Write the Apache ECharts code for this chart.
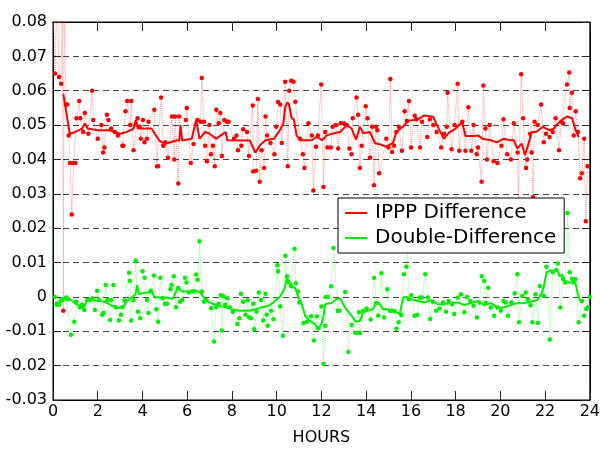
<!DOCTYPE html>
<html>
<head>
<meta charset="utf-8">
<script src="https://cdn.jsdelivr.net/npm/echarts@6/dist/echarts.min.js"></script>
<style>
  html, body { margin: 0; padding: 0; background: #fff; }
  #chart { width: 603px; height: 451px; }
</style>
</head>
<body>
<div id="chart"></div>
<script>
// tick labels
var hourTicks = [0, 2, 4, 6, 8, 10, 12, 14, 16, 18, 20, 22, 24];
var valueTicks = [-0.03, -0.02, -0.01, 0, 0.01, 0.02, 0.03, 0.04, 0.05, 0.06, 0.07, 0.08];

// IPPP difference, raw points [hour, value]
var ipppRaw = [
  [0.00,0.082],[0.09,0.065],[0.18,0.092],[0.27,0.064],[0.36,0.062],[0.42,0.090],[0.46,-0.004],[0.50,0.088],
  [0.58,0.056],[0.64,0.056],[0.70,0.047],[0.76,0.039],[0.84,0.024],[0.92,0.039],[1.00,0.039],[1.05,0.052],
  [1.17,0.057],[1.22,0.052],[1.35,0.048],[1.42,0.0535],[1.58,0.0475],[1.75,0.060],[1.80,0.0515],[2.00,0.046],
  [2.16,0.050],[2.24,0.042],[2.30,0.0435],[2.41,0.053],[2.48,0.0515],[2.60,0.049],[2.76,0.048],[2.90,0.047],
  [3.10,0.044],[3.15,0.044],[3.24,0.054],[3.32,0.057],[3.45,0.050],[3.50,0.057],[3.60,0.0427],[3.78,0.052],
  [3.87,0.0495],[3.93,0.046],[4.02,0.0515],[4.09,0.045],[4.20,0.046],[4.27,0.051],[4.53,0.0545],[4.65,0.038],
  [4.70,0.038],[4.83,0.058],[4.93,0.044],[5.02,0.045],[5.14,0.0405],[5.32,0.0525],[5.42,0.040],[5.46,0.0525],
  [5.60,0.033],[5.64,0.0525],[5.94,0.0515],[5.98,0.055],[6.16,0.039],[6.28,0.0445],[6.46,0.0515],[6.60,0.051],
  [6.65,0.0637],[6.75,0.051],[6.80,0.044],[6.88,0.0395],[6.99,0.050],[7.06,0.0415],[7.15,0.044],[7.23,0.038],
  [7.30,0.0545],[7.41,0.0505],[7.48,0.0535],[7.55,0.041],[7.66,0.0515],[7.78,0.051],[7.85,0.051],[8.09,0.046],
  [8.20,0.047],[8.27,0.0427],[8.42,0.044],[8.50,0.0488],[8.67,0.048],[8.76,0.041],[8.93,0.0557],[8.95,0.0365],
  [9.08,0.0367],[9.16,0.0576],[9.24,0.0335],[9.33,0.0427],[9.44,0.0375],[9.50,0.0525],[9.57,0.047],[9.72,0.0448],
  [9.90,0.0415],[9.98,0.0495],[10.06,0.0567],[10.16,0.056],[10.23,0.0448],[10.38,0.0626],[10.50,0.038],[10.56,0.060],
  [10.65,0.0629],[10.75,0.0626],[10.83,0.0568],[11.05,0.046],[11.17,0.0415],[11.24,0.0375],[11.42,0.0505],[11.57,0.047],
  [11.64,0.031],[11.76,0.0437],[11.84,0.047],[11.99,0.0618],[12.09,0.032],[12.17,0.048],[12.27,0.0435],[12.42,0.0435],
  [12.50,0.0495],[12.65,0.050],[12.75,0.0432],[12.86,0.0505],[13.01,0.0505],[13.13,0.050],[13.25,0.0432],[13.35,0.0415],
  [13.40,0.052],[13.57,0.058],[13.64,0.053],[13.72,0.0375],[13.80,0.044],[13.98,0.0555],[14.06,0.052],[14.17,0.0405],
  [14.27,0.0495],[14.35,0.0325],[14.44,0.0495],[14.50,0.0485],[14.58,0.036],[14.90,0.046],[15.00,0.0435],[15.08,0.0634],
  [15.16,0.0422],[15.25,0.044],[15.35,0.048],[15.46,0.0495],[15.60,0.0425],[15.72,0.054],[15.82,0.0512],[15.91,0.057],
  [16.01,0.0435],[16.17,0.0527],[16.24,0.0517],[16.41,0.0435],[16.50,0.051],[16.73,0.0465],[16.85,0.0517],[17.00,0.050],
  [17.15,0.048],[17.35,0.0435],[17.48,0.0475],[17.60,0.0495],[17.64,0.0594],[17.82,0.043],[17.95,0.050],[18.09,0.062],
  [18.16,0.0425],[18.30,0.051],[18.44,0.0425],[18.57,0.0552],[18.70,0.0425],[18.80,0.050],[18.94,0.0415],[19.00,0.0435],
  [19.16,0.0335],[19.24,0.0615],[19.33,0.049],[19.40,0.040],[19.52,0.050],[19.70,0.0395],[19.87,0.039],[20.05,0.044],
  [20.14,0.0517],[20.30,0.0415],[20.47,0.040],[20.60,0.0505],[20.77,0.042],[20.80,0.027],[20.93,0.0648],[21.02,0.052],
  [21.15,0.0375],[21.20,0.040],[21.33,0.0475],[21.40,0.042],[21.46,0.029],[21.53,0.051],[21.67,0.050],[21.82,0.056],
  [21.94,0.045],[22.04,0.0475],[22.20,0.0465],[22.34,0.048],[22.47,0.052],[22.62,0.0427],[22.73,0.051],[22.80,0.0505],
  [22.98,0.0618],[23.08,0.0653],[23.10,0.055],[23.20,0.0594],[23.28,0.047],[23.37,0.054],[23.47,0.048],[23.57,0.0345],
  [23.64,0.036],[23.75,0.046],[23.82,0.022],[23.90,0.038]
];

// IPPP difference, smoothed curve
var ipppSmooth = [
  [0.46,0.059],[0.75,0.0475],[1.00,0.048],[1.30,0.049],[1.42,0.0505],[1.55,0.049],[2.00,0.0485],[2.50,0.0485],
  [3.00,0.0475],[3.30,0.048],[3.60,0.049],[3.70,0.0515],[3.80,0.049],[4.00,0.049],[4.40,0.049],[4.75,0.0455],
  [5.00,0.0445],[5.50,0.0455],[5.65,0.0455],[5.70,0.050],[5.78,0.0455],[6.20,0.046],[6.40,0.0515],[6.55,0.046],
  [6.80,0.048],[7.00,0.0475],[7.30,0.046],[7.50,0.047],[7.72,0.048],[7.79,0.0456],[8.80,0.0455],[9.05,0.042],
  [9.27,0.0443],[9.50,0.0456],[9.87,0.046],[10.10,0.048],[10.30,0.0505],[10.38,0.0552],[10.48,0.0566],[10.55,0.056],
  [10.67,0.052],[10.77,0.0516],[10.89,0.047],[11.05,0.0456],[11.35,0.0456],[11.57,0.0456],[11.80,0.0466],[12.02,0.0456],
  [12.24,0.047],[12.54,0.0476],[12.84,0.048],[13.13,0.050],[13.35,0.049],[13.55,0.0458],[13.72,0.0495],[13.87,0.0476],
  [14.17,0.048],[14.40,0.0447],[14.62,0.0444],[14.90,0.0437],[15.20,0.0448],[15.35,0.048],[15.64,0.0495],[15.90,0.0513],
  [16.30,0.0516],[16.60,0.0528],[17.00,0.0524],[17.15,0.0502],[17.47,0.046],[17.70,0.0478],[18.00,0.049],[18.10,0.0497],
  [18.30,0.0507],[18.44,0.0468],[18.80,0.0468],[19.00,0.047],[19.20,0.046],[19.56,0.0456],[19.85,0.045],[20.14,0.046],
  [20.44,0.0456],[20.60,0.0456],[20.75,0.0432],[20.96,0.0446],[21.10,0.0412],[21.26,0.0446],[21.40,0.048],[21.60,0.048],
  [21.90,0.0495],[22.20,0.0485],[22.40,0.049],[22.50,0.050],[22.75,0.0515],[22.98,0.0525],[23.20,0.052],[23.37,0.0485],
  [23.50,0.0465]
];

// double-difference, raw points
var ddRaw = [
  [0.09,0.000],[0.16,-0.0023],[0.27,-0.0023],[0.37,-0.001],[0.44,-0.0007],[0.59,-0.0002],[0.67,-0.0007],[0.80,-0.011],
  [0.95,-0.0072],[1.05,-0.0014],[1.20,-0.003],[1.30,-0.0023],[1.40,-0.0038],[1.53,-0.0009],[1.64,-0.0009],[1.76,-0.0004],
  [1.87,-0.0038],[1.97,0.0018],[2.06,-0.0009],[2.20,-0.0052],[2.27,-0.0047],[2.36,0.0035],[2.43,-0.0009],[2.55,-0.0067],
  [2.60,-0.0009],[2.70,0.0035],[2.80,-0.003],[2.95,-0.0069],[3.04,-0.0052],[3.10,-0.003],[3.20,-0.001],[3.40,0.007],
  [3.44,0.0046],[3.49,-0.0069],[3.60,-0.001],[3.70,0.0105],[3.80,-0.0043],[3.90,-0.0062],[4.00,0.0075],[4.10,0.0056],
  [4.20,-0.0009],[4.27,-0.0047],[4.37,0.0016],[4.52,0.0062],[4.62,-0.0036],[4.70,-0.0072],[4.80,0.0056],[4.90,-0.0004],
  [5.00,-0.002],[5.10,-0.002],[5.25,0.0022],[5.30,0.0035],[5.40,0.006],[5.50,-0.003],[5.60,0.0026],[5.68,-0.0014],
  [5.78,-0.0009],[5.90,0.0056],[5.97,0.0042],[6.07,0.0013],[6.20,0.0016],[6.30,0.0016],[6.40,0.0065],[6.47,0.005],
  [6.55,0.0162],[6.66,0.0016],[6.75,-0.0014],[6.85,-0.001],[7.07,-0.0033],[7.20,-0.013],[7.30,-0.003],[7.40,-0.002],
  [7.50,0.0005],[7.55,-0.0098],[7.62,0.0002],[7.70,-0.0023],[7.80,-0.0004],[7.90,-0.003],[8.04,-0.0043],[8.24,-0.0079],
  [8.33,-0.0062],[8.40,0.0009],[8.50,-0.0014],[8.60,-0.0052],[8.70,-0.001],[8.76,-0.0059],[8.85,-0.0062],[8.95,-0.002],
  [9.00,-0.0094],[9.10,-0.0043],[9.20,0.0013],[9.30,-0.0009],[9.40,-0.0069],[9.50,0.0009],[9.55,-0.0052],[9.60,-0.0084],
  [9.75,-0.004],[9.86,-0.0065],[10.03,0.0092],[10.06,0.0075],[10.16,-0.0027],[10.28,-0.0113],[10.39,0.012],[10.46,0.006],
  [10.53,0.0043],[10.64,0.0031],[10.80,0.014],[10.86,0.004],[10.95,0.0016],[11.01,-0.0016],[11.20,-0.0076],[11.35,-0.0072],
  [11.54,-0.0056],[11.67,-0.0127],[11.79,-0.0056],[11.87,-0.0091],[12.00,-0.0028],[12.09,-0.0195],[12.17,-0.0084],[12.20,0.0],
  [12.28,0.0],[12.43,0.0031],[12.54,0.0142],[12.73,-0.004],[12.80,-0.004],[13.06,0.0014],[13.20,-0.016],[13.35,-0.0082],
  [13.53,-0.0105],[13.68,-0.0045],[13.72,-0.0105],[13.87,-0.004],[14.02,-0.0034],[14.20,-0.0066],[14.36,0.0056],[14.46,-0.0018],
  [14.54,-0.0055],[14.68,0.0069],[14.80,-0.006],[14.95,0.0022],[15.06,-0.004],[15.13,-0.004],[15.28,-0.0042],[15.35,-0.0093],
  [15.45,-0.0074],[15.57,-0.0053],[15.69,0.0066],[15.80,0.0088],[15.86,0.0135],[15.90,-0.0007],[16.02,0.0005],[16.17,-0.0055],
  [16.28,-0.0053],[16.39,-0.0002],[16.49,-0.0002],[16.64,0.0066],[16.76,-0.0002],[16.86,-0.0064],[16.98,-0.0014],[17.13,-0.004],
  [17.28,-0.0034],[17.43,-0.0016],[17.57,-0.0043],[17.69,-0.0012],[17.84,-0.0021],[17.94,-0.005],[18.09,-0.0002],[18.24,0.0008],
  [18.39,-0.0045],[18.51,0.0],[18.66,-0.0012],[18.80,-0.0026],[18.95,-0.006],[19.06,-0.0016],[19.17,0.006],[19.28,0.0046],
  [19.35,-0.0018],[19.46,0.0027],[19.57,-0.0031],[19.72,-0.0055],[19.87,-0.0031],[20.02,-0.004],[20.14,-0.0012],[20.24,-0.0016],
  [20.34,-0.0055],[20.49,-0.0016],[20.64,0.0011],[20.76,0.0066],[20.83,-0.0074],[20.98,0.0003],[21.13,0.0013],[21.23,-0.0007],
  [21.35,-0.0024],[21.43,-0.0074],[21.57,0.0008],[21.68,-0.0076],[21.77,0.0032],[21.94,0.0003],[22.06,0.0088],[22.21,-0.0124],
  [22.34,0.0072],[22.50,0.0078],[22.57,0.0097],[22.68,-0.0031],[22.80,0.0053],[22.90,0.0042],[23.00,0.0244],[23.10,0.0072],
  [23.20,0.0053],[23.28,0.0042],[23.35,0.0052],[23.50,-0.0074],[23.65,-0.0012],[23.75,-0.0055],[23.84,-0.0035],[23.92,-0.003],
  [23.99,0.0]
];

// double-difference, smoothed curve
var ddSmooth = [
  [0.09,-0.0017],[0.46,-0.0012],[0.60,-0.0002],[0.76,-0.0007],[1.05,-0.0022],[1.35,-0.0032],[1.57,-0.0006],[1.94,-0.0012],
  [2.16,-0.0012],[2.40,-0.0017],[2.68,-0.0027],[2.90,-0.0032],[3.13,-0.003],[3.30,-0.0012],[3.50,-0.0002],[3.69,0.0008],
  [3.76,0.0034],[3.84,0.0008],[4.00,0.0011],[4.24,0.0013],[4.39,0.0023],[4.53,-0.0002],[4.75,-0.0002],[5.05,-0.0002],
  [5.35,-0.0006],[5.57,0.0026],[5.79,0.0016],[6.09,0.0016],[6.40,0.0019],[6.60,0.0011],[6.83,-0.0009],[7.13,-0.002],
  [7.42,-0.0026],[7.72,-0.003],[8.01,-0.0036],[8.31,-0.004],[8.76,-0.004],[9.05,-0.0036],[9.35,-0.003],[9.64,-0.0026],
  [9.94,-0.0011],[10.16,0.0002],[10.36,0.0026],[10.46,0.0055],[10.56,0.0045],[10.68,0.0029],[10.83,0.0026],[10.98,-0.0002],
  [11.13,-0.0022],[11.27,-0.0055],[11.50,-0.007],[11.72,-0.008],[11.84,-0.0094],[11.99,-0.008],[12.09,-0.0058],[12.17,-0.0021],
  [12.46,-0.0018],[12.68,-0.0005],[12.83,-0.0005],[13.06,-0.0031],[13.35,-0.0055],[13.53,-0.0072],[13.72,-0.007],[13.87,-0.0045],
  [14.09,-0.004],[14.31,-0.0036],[14.46,-0.0014],[14.61,-0.0021],[14.76,-0.0037],[14.91,-0.0035],[15.06,-0.004],[15.20,-0.0037],
  [15.35,-0.0044],[15.50,-0.005],[15.65,-0.0002],[15.80,0.0],[16.02,-0.0007],[16.31,-0.0012],[16.61,-0.0016],[16.90,-0.0009],
  [17.20,-0.0021],[17.50,-0.0021],[17.80,-0.0018],[18.09,-0.0016],[18.39,-0.0024],[18.68,-0.0018],[18.98,-0.0012],[19.28,-0.0024],
  [19.57,-0.0018],[19.87,-0.0031],[20.17,-0.0031],[20.46,-0.0024],[20.76,-0.0018],[21.05,-0.0018],[21.35,-0.0014],[21.65,-0.0009],
  [21.83,0.0008],[21.94,0.003],[22.06,0.007],[22.24,0.0078],[22.42,0.0075],[22.54,0.0078],[22.66,0.0059],[22.76,0.0066],
  [22.86,0.0047],[23.06,0.0042],[23.35,0.0042],[23.45,0.0013],[23.57,-0.0012]
];

var RED = '#ff0000';
var GREEN = '#00ee00';
var FONT = 'DejaVu Sans';

var chart = echarts.init(document.getElementById('chart'), null, { renderer: 'canvas' });

// dotted raw series with dots
function rawSeries(name, data, color) {
  return {
    name: name,
    type: 'line',
    data: data,
    symbol: 'circle',
    symbolSize: 4.5,
    showSymbol: true,
    clip: true,
    itemStyle: { color: color },
    lineStyle: { color: color, width: 1, type: 'dotted', opacity: 0.4 },
    z: 2,
    silent: true
  };
}

function smoothSeries(name, data, color) {
  return {
    name: name,
    type: 'line',
    data: data,
    symbol: 'none',
    clip: true,
    itemStyle: { color: color },
    lineStyle: { color: color, width: 2 },
    z: 3,
    silent: true
  };
}

var tickStyle = { show: true, inside: true, length: 9, lineStyle: { color: '#222', width: 1 } };
var edgeLine = { show: true, onZero: false, lineStyle: { color: '#000' } };

chart.setOption({
  animation: false,
  backgroundColor: '#fff',
  grid: { left: 53, right: 10, top: 22, bottom: 50, show: true, borderColor: '#000', borderWidth: 1 },
  legend: {
    data: [
      { name: 'IPPP Difference', icon: 'rect' },
      { name: 'Double-Difference', icon: 'rect' }
    ],
    orient: 'vertical',
    left: 338,
    top: 198,
    padding: [5, 8, 5, 7],
    itemWidth: 22,
    itemHeight: 2,
    itemGap: 5,
    backgroundColor: '#fff',
    borderColor: '#000',
    borderWidth: 1,
    textStyle: { fontFamily: FONT, fontSize: 20, color: '#000', padding: [0, 0, 0, 3] }
  },
  xAxis: [{
    type: 'value',
    min: hourTicks[0],
    max: hourTicks[hourTicks.length - 1],
    interval: 2,
    name: 'HOURS',
    nameLocation: 'middle',
    nameGap: 30,
    nameTextStyle: { fontFamily: FONT, fontSize: 16, color: '#000' },
    axisLine: edgeLine,
    axisTick: tickStyle,
    axisLabel: { fontFamily: FONT, fontSize: 16, color: '#000', margin: 4 },
    splitLine: { show: false }
  }, {
    type: 'value',
    position: 'top',
    min: hourTicks[0],
    max: hourTicks[hourTicks.length - 1],
    interval: 2,
    axisLine: edgeLine,
    axisTick: tickStyle,
    axisLabel: { show: false },
    splitLine: { show: false }
  }],
  yAxis: [{
    type: 'value',
    min: valueTicks[0],
    max: valueTicks[valueTicks.length - 1],
    interval: 0.01,
    axisLine: edgeLine,
    axisTick: { show: true, inside: true, length: 8, lineStyle: { color: '#222' } },
    axisLabel: {
      fontFamily: FONT, fontSize: 16, color: '#000', margin: 6,
      formatter: function (v) { return Math.abs(v) < 1e-9 ? '0' : v.toFixed(2); }
    },
    splitLine: { show: true, lineStyle: { color: '#444', width: 1, type: [6, 4] } }
  }, {
    type: 'value',
    position: 'right',
    min: valueTicks[0],
    max: valueTicks[valueTicks.length - 1],
    interval: 0.01,
    axisLine: edgeLine,
    axisTick: { show: true, inside: true, length: 8, lineStyle: { color: '#222' } },
    axisLabel: { show: false },
    splitLine: { show: false }
  }],
  series: [
    rawSeries('ipppRaw', ipppRaw, RED),
    rawSeries('ddRaw', ddRaw, GREEN),
    smoothSeries('IPPP Difference', ipppSmooth, RED),
    smoothSeries('Double-Difference', ddSmooth, GREEN)
  ]
});
</script>
</body>
</html>
